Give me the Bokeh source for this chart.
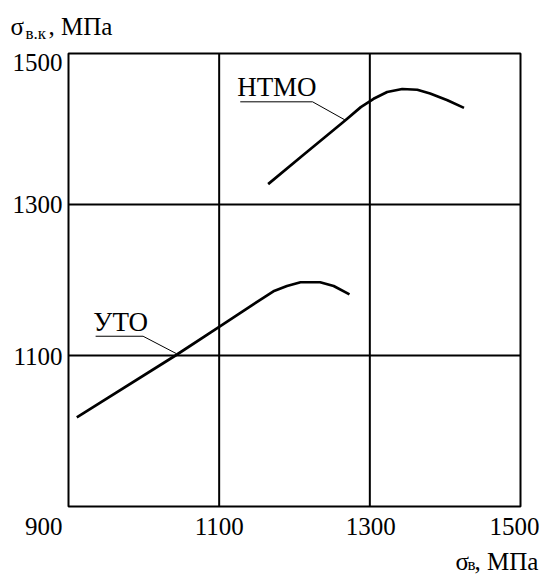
from bokeh.plotting import figure
from bokeh.models import Range1d
from bokeh.core.properties import value
from bokeh.embed import file_html
from bokeh.resources import INLINE

# ---- data ----
ticks = [900, 1100, 1300, 1500]
tick_labels = ["900", "1100", "1300", "1500"]

uto_x = [911, 1042, 1100, 1155, 1172, 1190, 1208, 1234, 1252, 1273]
uto_y = [1018, 1100, 1138, 1174, 1185, 1192, 1197, 1197, 1192, 1181]

ntmo_x = [1165, 1212, 1268, 1288, 1305, 1323, 1343, 1363, 1380, 1403, 1425]
ntmo_y = [1327, 1366, 1412, 1429, 1440, 1449, 1453, 1452, 1447, 1438, 1428]

series_names = ["УТО", "НТМО"]
name_x = [933, 1124]
name_y = [1145, 1455]

uto_leader_x = [936, 999, 1043]
uto_leader_y = [1125.5, 1125.5, 1102.6]
ntmo_leader_x = [1128, 1224, 1267]
ntmo_leader_y = [1436, 1436, 1412]

y_title_parts = ["σ", "в.к", ", МПа"]
x_title_parts = ["σ", "в", ", МПа"]

# ---- layout (pixels) ----
W, H = 550, 575
BOX_L, BOX_R, BOX_T, BOX_B = 68, 520, 53, 506
LO, HI = ticks[0], ticks[-1]
sx = (BOX_R - BOX_L) / (HI - LO)
sy = (BOX_B - BOX_T) / (HI - LO)
x0 = LO - BOX_L / sx
x1 = LO + (W - BOX_L) / sx
y0 = LO - (H - BOX_B) / sy
y1 = LO + BOX_B / sy

FONT = value("Liberation Serif")

p = figure(width=W, height=H, output_backend="svg", toolbar_location=None,
           x_range=Range1d(x0, x1), y_range=Range1d(y0, y1),
           min_border=0)
p.axis.visible = False
p.grid.visible = False
p.outline_line_color = None
p.background_fill_color = "white"
p.border_fill_color = "white"

# frame and grid
p.quad(left=[LO], right=[HI], bottom=[LO], top=[HI], fill_color=None,
       line_color="black", line_width=2)
inner = ticks[1:-1]
p.segment(x0=inner, x1=inner, y0=[LO] * len(inner), y1=[HI] * len(inner),
          line_color="black", line_width=2)
p.segment(x0=[LO] * len(inner), x1=[HI] * len(inner), y0=inner, y1=inner,
          line_color="black", line_width=2)

# tick labels
y_lab_dy = [19.5, 1, 0, 9]
p.text(x=[LO] * len(ticks), y=ticks, text=tick_labels, x_offset=-6, y_offset=y_lab_dy,
       text_align="right", text_baseline="middle", text_font=FONT,
       text_font_size="25px", text_color="black")
x_lab_dx = [0, 1, -6]
p.text(x=ticks[1:], y=[LO] * 3, text=tick_labels[1:], x_offset=x_lab_dx, y_offset=20,
       text_align="center", text_baseline="middle", text_font=FONT,
       text_font_size="25px", text_color="black")

# curves
p.line(uto_x, uto_y, line_color="black", line_width=2.7)
p.line(ntmo_x, ntmo_y, line_color="black", line_width=2.7)

# leaders
p.line(uto_leader_x, uto_leader_y, line_color="black", line_width=1)
p.line(ntmo_leader_x, ntmo_leader_y, line_color="black", line_width=1)

p.text(x=name_x, y=name_y, text=series_names, text_font=FONT,
       text_font_size="27px", text_align="left", text_baseline="middle",
       text_color="black")

# axis titles
p.text(x=[LO] * 3, y=[HI] * 3, text=y_title_parts,
       x_offset=[-58, -43, -20], y_offset=[-27.5, -20.5, -27.5],
       text_font_size=["25px", "17px", "25px"], text_font=FONT,
       text_align="left", text_baseline="middle", text_color="black")
p.text(x=[HI] * 3, y=[LO] * 3, text=x_title_parts,
       x_offset=[-65, -53, -46], y_offset=[54.5, 58, 54.5],
       text_font_size=["25px", "17px", "25px"], text_font=FONT,
       text_align="left", text_baseline="middle", text_color="black")

open("out.html", "w").write(file_html(p, INLINE))
